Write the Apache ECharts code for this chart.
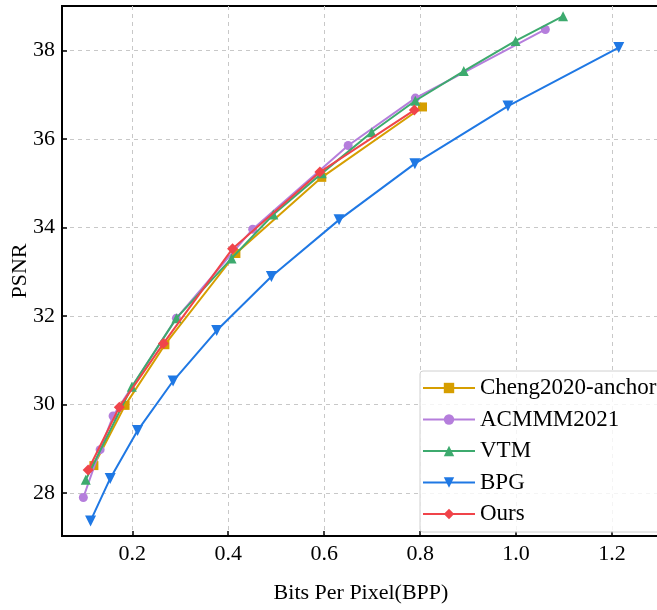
<!DOCTYPE html>
<html>
<head>
<meta charset="utf-8">
<script src="https://cdn.jsdelivr.net/npm/echarts@6/dist/echarts.min.js"></script>
<style>html,body{margin:0;padding:0;background:#fff}#c{width:657px;height:610px}</style>
</head>
<body>
<div id="c"></div>
<script>
const seriesNames = ['Cheng2020-anchor', 'ACMMM2021', 'VTM', 'BPG', 'Ours'];

const chengX = [0.120, 0.185, 0.268, 0.416, 0.595, 0.805];
const chengY = [28.62, 29.98, 31.35, 33.41, 35.13, 36.72];

const acmmmX = [0.098, 0.133, 0.160, 0.292, 0.451, 0.650, 0.790, 1.061];
const acmmmY = [27.90, 28.98, 29.74, 31.95, 33.96, 35.85, 36.92, 38.47];

const vtmX = [0.103, 0.199, 0.292, 0.407, 0.494, 0.595, 0.699, 0.790, 0.891, 0.999, 1.098];
const vtmY = [28.30, 30.40, 31.95, 33.30, 34.29, 35.22, 36.15, 36.86, 37.53, 38.21, 38.77];

const bpgX = [0.113, 0.154, 0.211, 0.285, 0.376, 0.490, 0.631, 0.789, 0.983, 1.214];
const bpgY = [27.37, 28.33, 29.41, 30.53, 31.67, 32.89, 34.17, 35.44, 36.74, 38.06];

const oursX = [0.108, 0.173, 0.265, 0.409, 0.591, 0.788];
const oursY = [28.52, 29.94, 31.38, 33.52, 35.25, 36.65];

const xTicks = [0.2, 0.4, 0.6, 0.8, 1.0, 1.2];
const yTicks = [28, 30, 32, 34, 36, 38];

const colors = ['#D69E00', '#B57EDC', '#3DAA6E', '#1F78E4', '#F0444A'];
const symbols = ['rect', 'circle', 'triangle', 'triangle', 'diamond'];
const symbolRot = [0, 0, 0, 180, 0];
const symbolSizes = [9, 9, 10, 11, 11];
const xs = [chengX, acmmmX, vtmX, bpgX, oursX];
const ys = [chengY, acmmmY, vtmY, bpgY, oursY];

const font = '"Liberation Serif", "Times New Roman", serif';

const chart = echarts.init(document.getElementById('c'), null, {renderer: 'canvas'});
const series = seriesNames.map((n, i) => ({
  name: n,
  type: 'line',
  data: xs[i].map((x, j) => [x, ys[i][j]]),
  symbol: symbols[i],
  symbolRotate: symbolRot[i],
  symbolSize: symbolSizes[i],
  showAllSymbol: true,
  itemStyle: {color: colors[i]},
  lineStyle: {color: colors[i], width: 2},
  z: 2 + i,
  animation: false
}));

chart.setOption({
  animation: false,
  backgroundColor: '#fff',
  grid: {left: 62, top: 6, right: -3, bottom: 74, show: true, borderColor: '#000', borderWidth: 2,
         containLabel: false, outerBoundsMode: 'none'},
  legend: {
    data: seriesNames,
    orient: 'vertical',
    left: 420, top: 371,
    padding: [5, 60, 6, 2],
    itemWidth: 52, itemHeight: 13,
    itemGap: 7.5,
    backgroundColor: 'rgba(255,255,255,0.8)',
    borderColor: '#d0d0d0', borderWidth: 1, borderRadius: 3,
    textStyle: {fontFamily: font, fontSize: 23, color: '#000', lineHeight: 24}
  },
  xAxis: {
    type: 'value', min: 0.0535, max: 1.3,
    name: 'Bits Per Pixel(BPP)', nameLocation: 'middle', nameGap: 46, nameMoveOverlap: false,
    nameTextStyle: {fontFamily: font, fontSize: 22, color: '#000'},
    axisLine: {show: true, onZero: false, lineStyle: {color: '#000', width: 2}},
    axisTick: {show: true, inside: true, length: 5, customValues: xTicks, lineStyle: {color: '#000', width: 1.5}},
    axisLabel: {customValues: xTicks, margin: 7, fontFamily: font, fontSize: 22, color: '#000', formatter: v => v.toFixed(1)},
    splitLine: {show: true, lineStyle: {color: '#c8c8c8', type: [4, 4], width: 1}}
  },
  yAxis: {
    type: 'value', min: 27.03, max: 39.0,
    name: 'PSNR', nameLocation: 'middle', nameGap: 31, nameRotate: 90, nameMoveOverlap: false,
    nameTextStyle: {fontFamily: font, fontSize: 22, color: '#000'},
    axisLine: {show: true, onZero: false, lineStyle: {color: '#000', width: 2}},
    axisTick: {show: true, inside: true, length: 5, customValues: yTicks, lineStyle: {color: '#000', width: 1.5}},
    axisLabel: {customValues: yTicks, margin: 7, fontFamily: font, fontSize: 22, color: '#000'},
    splitLine: {show: true, lineStyle: {color: '#c8c8c8', type: [4, 4], width: 1}}
  },
  series: series
});
</script>
</body>
</html>
